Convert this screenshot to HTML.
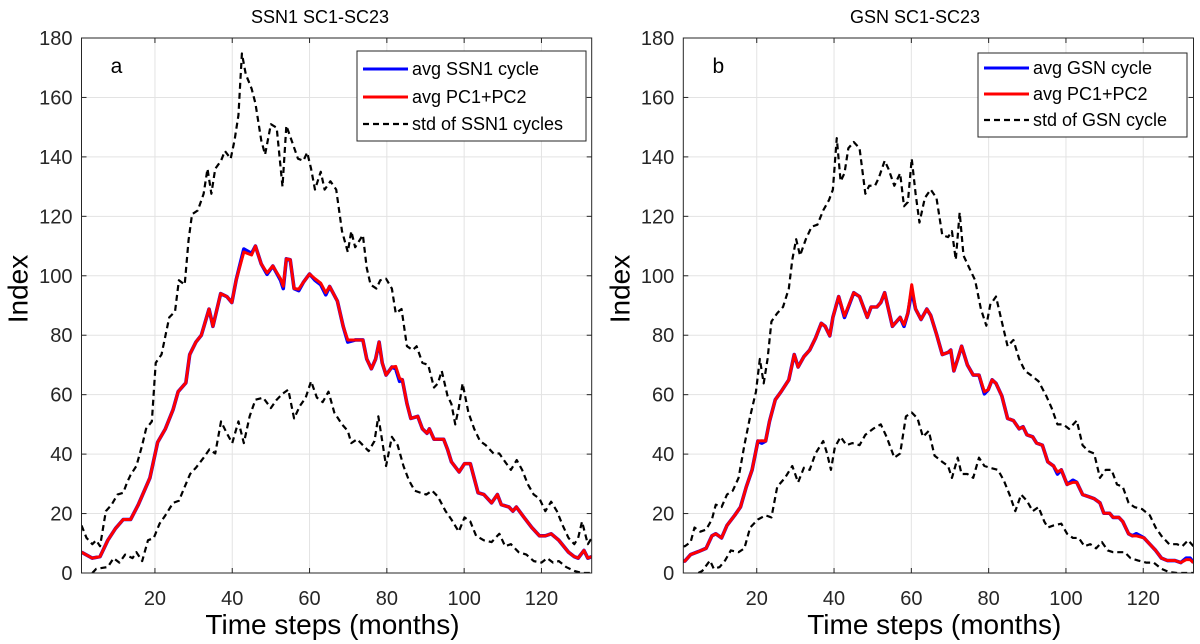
<!DOCTYPE html>
<html><head><meta charset="utf-8">
<style>
html,body{margin:0;padding:0;background:#fff;}
svg{display:block;font-family:"Liberation Sans",Arial,sans-serif;}
</style></head>
<body>
<svg id="fig" width="1200" height="644" viewBox="0 0 1200 644" xmlns="http://www.w3.org/2000/svg"></svg>
<script>
// ---------- data ----------
const xTicks = [20,40,60,80,100,120];
const yTicks = [0,20,40,60,80,100,120,140,160,180];
const xTickLabels = ["20","40","60","80","100","120"];
const yTickLabels = ["0","20","40","60","80","100","120","140","160","180"];

// Panel a (SSN1)
const aAvgX = [1,3.8,5.8,7.8,9.8,11.8,13.7,15.7,18.7,20.7,22.7,24.7,26,28,29,30.6,32,34,35,37,38.6,39.9,41,43,45,46,47.5,49,50.5,52.5,53.2,54,55,56,57.2,58.4,60,61.4,62.9,64.2,65.2,67.2,68.7,69.9,71.8,73.8,74.8,76,77.1,78,78.8,79.8,81.3,82.3,83.3,84,85.2,86.2,88,89.2,90.4,91,92.2,94.7,95.7,96.7,98.7,100.1,101.6,103.6,105.1,107.1,108.6,109.6,111.6,112.6,113.5,115.5,117.5,119.5,121,122.5,124.5,127,128.5,129.5,131,132,133];
const aAvgSSN = [7,5,5.5,11,15,18,18,23,32,44,48.5,55,61,64,73.5,77.7,80,88.8,83,94,93,91,98.5,109,107.5,110,104,100.5,103.3,98.5,95.7,105.7,105.4,95.7,95,97.8,100.6,98.5,97,93.6,96.4,91.5,83,77.7,78.4,78.4,72,68.7,72,77.7,70.7,66.6,69.3,68.7,64.5,65,57,52,52.7,48.5,47,48.5,45,45,41.6,37.4,34,36.8,36.8,27,26.4,23.6,26.4,23,22.2,20.8,22.2,18.7,15.3,12.5,12.5,13.2,11,7,5.5,5,7.6,5,5.5];
const aAvgPC = [7,5,5.5,11,15,18,18,23,32,44,48.5,55,61,64,73.5,77.7,80,88.8,83,94,93,91,98.5,108,107,110,104,101,103.3,99,96.5,105.7,105.4,95.7,95.5,97.8,100.6,99,97.5,94.3,96.4,91.5,83,78.4,78.4,78.4,72,68.7,72,77.7,70.7,66.6,69.3,69.5,65.5,65,57,52,52.7,48.5,47,48.5,45,45,41.6,37.4,34,36.8,36.8,27,26.4,23.6,26.4,23,22.2,20.8,22.2,18.7,15.3,12.5,12.5,13.2,11,7,5.5,5,7.6,5,5.5];
const aUpX = [1,2.3,3.8,4.8,5.8,7.3,8.8,10.3,11.8,12.8,13.7,15.2,16.7,17.7,19.2,20.2,21.7,23.7,25.2,26.2,27.7,28.7,29.6,31.1,32.6,33.6,34.6,35.6,37.1,38.1,39.6,40.6,41.6,42.5,43.5,45,46,47.5,48.5,50,51.5,53,54,55.5,57,58.4,59.4,60.4,61.4,62.9,63.9,65.4,66.9,68.4,69.9,70.8,71.8,73.8,74.8,75.8,77.3,78.3,79.8,81.3,82.3,83.8,85.2,86.7,87.7,89.2,90.7,92.2,93.2,94.2,95.7,96.7,97.7,98.6,99.6,101.1,102.6,104.1,105.6,107.6,109.1,110.6,112.1,113.6,115,116.5,118,119.5,121,122.5,124,125.5,127,128.5,129.5,130.5,132,133];
const aUpStd = [16,11.8,9.7,11,9,20.8,23,26.4,27,30.5,33,36,43,48.5,51,70.7,73.5,86,88,98.5,97,112,120.7,122,127.6,136,127.6,136,138.7,142,139.4,145.6,154,174.8,167.8,163,158,145.6,140.8,151,149.8,130,150.5,145,139.4,138.7,141.5,136,129,135,129,131.8,129,115,108,115,109.6,113.7,102.6,97,95.7,98.5,99,95.7,87.4,88.8,76.3,75,76.3,70.7,70,62.4,63.8,68,59.6,56.9,50,55.5,63.8,54,48.5,44.4,43,40.2,40.2,37.4,34.7,38,34.7,29.8,26.4,25,20.8,24,20.8,16,11.8,9.7,11.8,17.3,9.7,11.8];
const aLoX = [3.8,4.8,6.3,7.8,9.3,10.8,12.3,14.2,15.2,16.7,18.2,19.7,21.2,22.7,24.7,26.2,27.7,29.1,30.6,32.6,34.1,35.6,37.1,38.6,40,41.6,43,44.5,46,48,50,51.5,53,54.5,56,57.5,59,60.4,61.9,63.4,64.9,66.4,68.4,69.9,70.8,72.3,73.8,75.3,76.8,77.8,78.8,79.8,81.3,82.8,84.3,85.7,87.2,88.7,90.2,91.7,93.2,95.2,96.7,98.6,100.1,101.6,103.1,105.1,107.1,109.1,110.6,112.1,114.1,116.1,118,120,121.5,123,124.5,126.4,128.5,130.5,133];
const aLoStd = [0,1.4,1.7,2,5,3.5,6.2,5,7,4,11,11.8,16.6,19.4,23.6,24.3,29,33.3,35.4,38.8,41.6,40.2,51,47,43.7,51,43.7,52.7,58.3,59,55.5,58.3,60.3,61.7,52,56.2,59,64.5,59,57.5,61,54,50,47.8,43.7,45,43,41,44.4,52.7,44.4,36,45.8,43,36,31.2,27.7,27,26.4,27.7,25.7,20.8,18,13.9,18.7,17.3,12.5,11,10.4,13.2,9,9.7,7,6.2,4,3.5,5,3.5,4,2,0.7,0,0];

// Panel b (GSN)
const bAvgX = [1,1.4,2.9,4.9,6.9,8.4,9.4,10.9,12.3,14.3,15.8,17.3,18.8,20.3,21.3,22.3,23.3,24.8,26.3,28.3,29.7,30.7,32.2,33.7,35.2,36.7,37.7,38.9,39.7,41.2,42.7,45.1,46.6,48.6,49.6,51.1,52.1,53.1,55.1,57.1,58.1,59.1,60.1,61.1,62.5,64,65,66.5,68,69.5,70.2,71,72,73,74.5,76,77.5,78.9,79.9,80.9,81.9,83.4,84.9,86.4,87.9,88.9,89.9,91.4,92.4,93.9,95.3,96.8,97.8,98.8,100.3,101.8,102.8,104.3,105.8,107.3,108.8,109.8,111.3,112.2,113.7,114.7,116.2,117.2,118.2,120.2,121.7,123.2,124.7,126.2,128.2,129.7,131.1,132.1,133];
const bAvgGSN = [4,4,6.2,7.2,8.3,12.5,13.2,11.8,16,19.4,22.2,29,34.7,44.4,43.7,44.4,51,58.3,61,65,73.5,69.3,72.8,75,79,84,83,79.8,86,93,86,94.3,93,86,89.5,89.5,91,94.3,83,86,83,87.4,95,88.8,85.3,88.8,86.7,80.4,73.5,74.2,75,68,72,76.3,70,66.6,66.6,60.3,61.7,65,63.8,59.6,52,51.3,48.5,49.2,46.5,45.8,43.7,43,37.4,36,33.3,34.7,29.8,31.2,30.5,26.4,25.7,25,23.6,20.1,20.1,18.7,18.7,17.3,13.2,12.5,13.2,11.8,9.7,7.6,5,4.2,4.2,3.5,5,5,3.5];
const bAvgPC = [4,4,6.2,7.2,8.3,12.5,13.2,11.8,16,19.4,22.2,29,34.7,44.4,44.5,44.4,51,58.3,61,65,73.5,69.3,72.8,75,79,84,83,79.8,86,93,86.5,94.3,93,86,89.5,89.5,91,94.3,83,86,83.5,87.4,97,88.8,85.3,88.8,86.7,80.4,73.5,74.2,75,68,72,76.3,70,66.6,66.6,61,61.7,65,63.8,59.6,52,51.3,48.5,49.2,46.5,45.8,43.7,43,37.4,36,34,34.7,29.8,30.5,30.5,26.4,25.7,25,23.6,20.1,20.1,18.7,18.7,17.3,13.2,12.5,12.5,11.8,9.7,7.6,5,4.2,4.2,3.5,4.5,4.5,3.5];
const bUpX = [1,1.4,2.9,3.9,5.4,6.9,8.4,9.4,10.9,12.3,13.8,15.3,16.8,18.3,19.8,20.8,21.8,22.8,23.8,25.3,26.8,28.3,29.2,30.2,31.2,32.7,34.2,35.7,37.2,38.7,39.7,40.7,41.7,42.7,43.7,45.1,46.6,48.1,49.1,50.6,51.6,53.1,54.1,55.6,57.1,58.1,59.1,60.1,61.1,62.1,63.5,65,66.5,68,69.5,70.5,71.5,72.5,73.5,75,76.5,78,79.4,80.4,81.9,83.4,84.9,86.4,87.9,89.4,90.9,92.9,94.9,96.3,97.8,99.3,100.8,102.8,104.3,105.8,107.3,108.8,110.3,111.8,113.2,114.7,116.2,117.7,119.7,121.7,123.2,124.7,126.7,128.7,130.1,131.6,133];
const bUpStd = [9,9,10.4,15.3,13.9,14.6,18,23,22.2,26.4,27.7,32,43,52.7,61,72,63.8,72,84.6,87.4,89.5,95.7,105.4,112.3,106.8,112.3,116.5,117.2,122,125.5,129,146.3,131.8,134.5,142.9,145,142.9,127.6,130.3,130.3,133,138.7,135.9,130.3,134.5,123.4,124.8,139.4,127.6,117.9,126.2,129,126.2,113.7,113,115,105.4,121.3,106.8,102.6,98.5,88.8,83.2,90.2,93,84.6,76.3,78.4,72,68,66.6,64.5,59.6,55.5,50,50,48.5,51.3,43,41,40.2,32,34.7,34.7,29.8,29,23.6,22.2,21.5,19.4,15.3,12.5,9.7,9.7,9,11,9];
const bLoX = [4.9,5.9,7.9,8.9,10.4,11.8,13.3,15.3,16.8,18.3,20.3,22.3,23.8,25.3,27.3,29.2,30.7,32.2,33.7,35.2,37.2,38.2,39.2,40.2,41.7,43.2,44.7,46.6,48.1,50.1,52.1,53.6,55.6,57.1,58.6,60.1,61.6,63,64.5,66,68,69.5,70.5,72,73,74.5,76,77.5,78.9,80.4,82.4,83.9,85.4,86.9,88.4,89.9,91.4,92.9,94.4,95.3,96.8,98.8,100.3,101.8,103.3,104.8,106.3,107.8,109.3,110.8,112.2,113.7,115.2,116.7,118.7,120.7,122.7,124.7,126.7,128.7,133];
const bLoStd = [0,0.7,4.2,1.4,2,4.2,7.6,7,8.3,15.3,18,19.4,18.7,29,32,36,30.5,35.4,34.7,40.2,44.4,40.2,34.7,42.3,45.8,43,43.7,43,46.5,48.5,50,45.8,38.8,40.2,52.7,54,52,45.8,47.8,39.5,37.4,36,32,38.8,33.3,33.3,32,38.8,36,35.4,34.7,31.2,26.4,20.8,26.4,24.3,20.8,22.2,17.3,15.3,16,16.6,13.2,11.8,11.8,9,9.7,8.3,10.4,7.6,7,7,7,5,4.2,3.5,3.5,1.4,0.3,0,0];

// ---------- drawing ----------
const NS = "http://www.w3.org/2000/svg";
const svg = document.getElementById("fig");
function mk(tag, attrs, parent){
  const e = document.createElementNS(NS, tag);
  for (const k in attrs) e.setAttribute(k, attrs[k]);
  (parent||svg).appendChild(e);
  return e;
}
const X0 = 1, X1 = 133, Y0 = 0, Y1 = 180;
const TOP = 38, BOT = 573, W = 510.2;

function panel(cfg){
  const L = cfg.left, R = L + W;
  const sx = v => L + (v - X0) / (X1 - X0) * (R - L);
  const sy = v => BOT - (v - Y0) / (Y1 - Y0) * (BOT - TOP);
  const g = mk("g", {});
  
  

  xTicks.forEach((t,i) => {
    const ln = mk("line", {x1:sx(t), x2:sx(t), y1:TOP, y2:BOT, stroke:"#e3e3e3", "stroke-width":1}, g);
    
    
  });
  yTicks.forEach((t,i) => {
    const ln = mk("line", {x1:L, x2:R, y1:sy(t), y2:sy(t), stroke:"#e3e3e3", "stroke-width":1}, g);
    
    
  });

  const clipId = cfg.id + "-clip";
  const cp = mk("clipPath", {id:clipId}, g);
  mk("rect", {x:L, y:TOP, width:R-L, height:BOT-TOP}, cp);
  const sg = mk("g", {"clip-path":"url(#"+clipId+")"}, g);
  
  
  const draw = (xs, ys, c, w, d, n) => {
    let dd = "";
    xs.forEach((x,i) => { dd += (i ? "L" : "M") + sx(x).toFixed(2) + " " + sy(ys[i]).toFixed(2); });
    const p = mk("path", {d:dd, fill:"none", stroke:c, "stroke-width":w, "stroke-linejoin":"round"}, sg);
    if (d) p.setAttribute("stroke-dasharray", d);
    
    
  };
  draw(cfg.upX, cfg.up, "#000", 2.2, "6,4", "std-upper-line");
  draw(cfg.loX, cfg.lo, "#000", 2.2, "6,4", "std-lower-line");
  draw(cfg.avgX, cfg.avg, "#0000ff", 3.6, null, "avg-cycle-line");
  draw(cfg.avgX, cfg.pc, "#ff0000", 3, null, "avg-pc-line");

  const box = mk("rect", {x:L, y:TOP, width:R-L, height:BOT-TOP, fill:"none", stroke:"#262626", "stroke-width":1}, g);
  
  

  xTicks.forEach((t,i) => {
    mk("line", {x1:sx(t), x2:sx(t), y1:BOT, y2:BOT-5, stroke:"#262626"}, g);
    mk("line", {x1:sx(t), x2:sx(t), y1:TOP, y2:TOP+5, stroke:"#262626"}, g);
    const tx = mk("text", {x:sx(t), y:605, "font-size":20, fill:"#262626", "text-anchor":"middle"}, g);
    tx.textContent = xTickLabels[i];
    
    
  });
  yTicks.forEach((t,i) => {
    mk("line", {x1:L, x2:L+5, y1:sy(t), y2:sy(t), stroke:"#262626"}, g);
    mk("line", {x1:R, x2:R-5, y1:sy(t), y2:sy(t), stroke:"#262626"}, g);
    const tx = mk("text", {x:L-9, y:sy(t)+7, "font-size":20, fill:"#262626", "text-anchor":"end"}, g);
    tx.textContent = yTickLabels[i];
    
    
  });

  const ti = mk("text", {x:cfg.titleX, y:23, "font-size":18, fill:"#000", "text-anchor":"middle"}, g);
  ti.textContent = cfg.title;
  
  
  const xl = mk("text", {x:L+251, y:634, "font-size":28, fill:"#000", "text-anchor":"middle"}, g);
  xl.textContent = "Time steps (months)";
  
  
  const yl = mk("text", {x:0, y:0, "font-size":28, fill:"#000", "text-anchor":"middle", transform:"translate("+(L-54)+",289) rotate(-90)"}, g);
  yl.textContent = "Index";
  
  
  const pl = mk("text", {x:L+35, y:73, "font-size":21, fill:"#000", "text-anchor":"middle"}, g);
  pl.textContent = cfg.letter;
  
  

  const lg = mk("g", {}, g);
  
  
  const lb = cfg.leg;
  mk("rect", {x:lb.x, y:lb.y, width:lb.w, height:lb.h, fill:"#fff", stroke:"#262626", "stroke-width":1}, lg);
  const items = [["#0000ff", null, cfg.l1], ["#ff0000", null, cfg.l2], ["#000", "6,4", cfg.l3]];
  items.forEach((it,i) => {
    const cy = lb.rows[i];
    const ln = mk("line", {x1:lb.x+6, x2:lb.x+51, y1:cy, y2:cy, stroke:it[0], "stroke-width":it[1]?2.2:3}, lg);
    if (it[1]) ln.setAttribute("stroke-dasharray", it[1]);
    
    
    const tx = mk("text", {x:lb.x+55, y:cy+6, "font-size":18, fill:"#000"}, lg);
    tx.textContent = it[2];
    
    
  });
}

panel({id:"ssn1", left:81.5, title:"SSN1 SC1-SC23", titleX:320, letter:"a",
  avgX:aAvgX, avg:aAvgSSN, pc:aAvgPC, upX:aUpX, up:aUpStd, loX:aLoX, lo:aLoStd,
  l1:"avg SSN1 cycle", l2:"avg PC1+PC2", l3:"std of SSN1 cycles",
  leg:{x:357, y:51, w:229, h:90, rows:[69,97,124]}});
panel({id:"gsn", left:683.3, title:"GSN SC1-SC23", titleX:915, letter:"b",
  avgX:bAvgX, avg:bAvgGSN, pc:bAvgPC, upX:bUpX, up:bUpStd, loX:bLoX, lo:bLoStd,
  l1:"avg GSN cycle", l2:"avg PC1+PC2", l3:"std of GSN cycle",
  leg:{x:978, y:53, w:209, h:84, rows:[68,94,120]}});
</script>
</body></html>
